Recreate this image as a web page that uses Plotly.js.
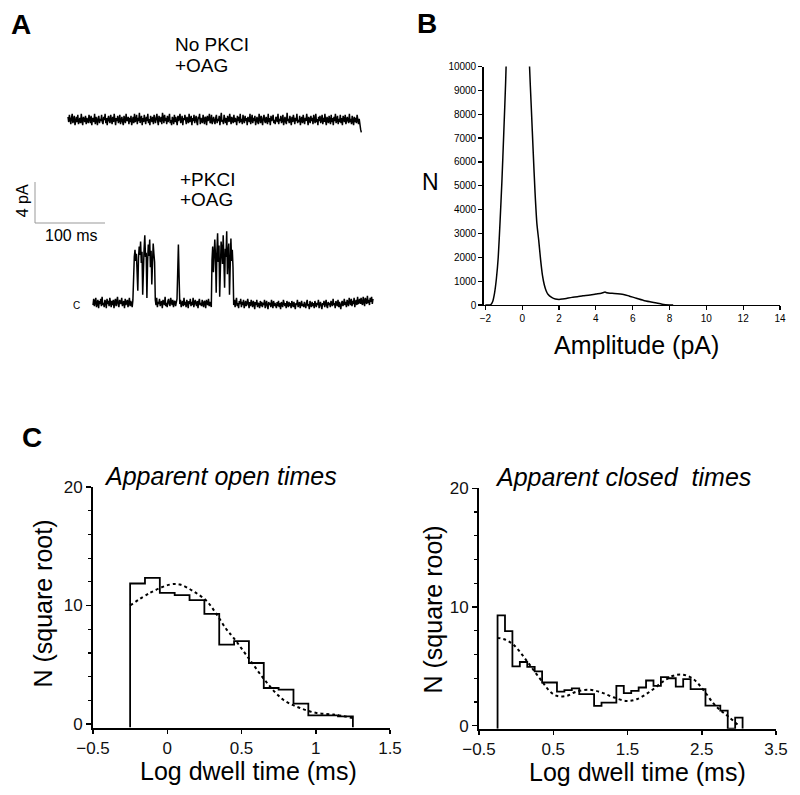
<!DOCTYPE html>
<html><head><meta charset="utf-8">
<script src="https://cdn.plot.ly/plotly-3.0.1.min.js"></script>
<style>html,body{margin:0;padding:0;background:#fff}#chart{width:800px;height:795px}</style>
</head><body><div id="chart"></div>
<script>
// ---------------- DATA ----------------
// Panel A: single-channel current traces, samples every 1 ms, values in 0.1 pA
const sampleMs = 1;
const traceTopDeciPA = [
 3,-2,5,-1,-4,2,6,-3,0,4,-5,1,3,-2,5,-4,0,2,-3,6,-1,-5,3,1,-2,4,-4,2,0,-3,
 5,-1,-3,4,-5,2,1,-2,6,-4,3,0,-5,2,4,-3,1,-1,5,-2,-4,3,0,6,-3,2,-5,1,4,-1,
 -3,5,0,-4,3,-2,6,1,-5,2,-1,4,-3,0,5,-4,2,3,-2,-5,4,1,-3,6,-1,0,3,-4,2,-2,
 4,-5,1,3,-3,6,-2,0,5,-4,2,-1,7,-3,1,4,-5,2,-2,5,0,-4,3,-1,6,-3,1,-5,4,2,
 -2,3,-4,5,0,-3,2,6,-1,-5,4,1,-2,3,-4,7,0,-3,5,-1,2,-4,4,-2,1,6,-3,0,-5,3,
 1,-4,5,-2,3,0,-5,4,-1,2,6,-3,-1,4,-5,2,0,5,-2,-4,3,1,-3,6,-2,0,4,-5,2,-1,
 5,-3,0,4,-2,-5,3,1,6,-4,2,-1,-3,5,0,-4,3,2,-5,4,-1,1,6,-3,-2,5,-4,0,3,-1,
 -4,2,5,-3,1,-1,4,-5,3,7,-2,0,-4,5,1,-3,2,-5,4,0,-2,6,-1,-4,3,1,-3,5,-2,2,
 0,-5,4,-1,3,-3,6,-2,1,-4,5,0,-3,4,-1,2,-5,3,1,-2,6,-4,0,5,-3,2,-1,4,-5,1,
 3,-2,-4,6,0,-3,4,1,-5,2,5,-1,-3,3,0,-4,6,-2,2,-5,4,-1,1,5,-3,0,-4,3,2,-2,
 6,-4,1,-1,4,-3,0,5,-5,2,3,-2,-4,7,-1,1,-3,4,0,-5,3,-2,5,1,-4,2,-1,6,-3,0,
 -2,4,-5,1,3,-3,5,0,-4,2,-1,6,-2,-5,3,1,-3,4,-1,2,-4,5,0,-3,6,-2,1,-5,3,-1,
 4,-3,0,5,-4,2,-2,6,-1,-5,3,1,-3,4,0,-4,5,-2,2,-5,3,-1,6,-3,0,4,-4,1,-2,5,
 -3,2,-5,4,1,-2,5,-4,0,3,-1,-3,6,-2,1,-4,4,0,-5,3,-2,2,-3,5,-1,-4,1,-6,-9,-12
];
const traceBottomDeciPA = [
 -2,4,-3,1,5,-4,0,3,-5,2,-1,4,-3,6,-2,0,-4,3,1,-5,4,-1,2,-3,5,0,-4,2,-2,3,
 -5,1,4,-3,0,6,-2,-4,3,1,-1,5,-3,0,2,-5,4,-2,1,3,-4,0,5,-3,2,-1,-4,3,
 38,45,52,41,48,30,12,44,55,47,60,39,50,8,42,53,66,45,49,5,40,57,46,62,35,51,18,44,58,48,40,
 3,-2,5,-4,1,-1,4,-3,0,2,-5,3,1,-2,6,-3,0,-4,2,4,-1,-3,5,0,-2,3,-4,1,2,-3,0,4,
 30,57,25,
 -1,3,-4,0,2,-3,5,-2,1,-4,3,0,-5,2,-1,4,-3,1,-2,5,-4,0,3,-1,-3,2,-5,1,4,-2,
 0,-3,3,-1,-4,2,1,-5,3,0,-2,4,-3,1,-1,-4,
 42,55,30,48,62,45,10,50,68,40,56,6,44,60,52,38,66,47,15,53,45,70,28,49,58,8,46,63,41,52,35,
 -2,3,-4,1,5,-3,0,-5,2,-1,4,-4,1,-2,3,-5,0,2,-3,-1,
 4,-2,-5,1,-3,3,-1,-4,2,0,-6,1,-2,3,-4,0,-1,-5,2,-3,
 1,-4,0,-2,3,-5,-1,2,-3,-6,1,-2,0,-4,3,-1,-5,2,-3,0,
 -2,-5,1,-3,2,-4,0,-6,1,-2,-4,3,-1,-3,0,-5,2,-2,-4,1,
 -3,0,-5,2,-1,-4,1,-3,-6,0,-2,3,-4,-1,1,-5,-2,2,-3,-1,
 -4,1,-2,-5,0,3,-3,-1,-6,2,-2,-4,1,-3,0,-5,2,-1,-4,0,
 -2,3,-5,-1,1,-3,-6,0,-2,2,-4,-1,3,-3,-5,1,-2,0,-4,2,
 -1,-3,4,-2,0,-5,2,-1,-3,3,-4,1,-2,-6,0,2,-3,-1,4,-2,
 1,-4,3,-1,-3,5,0,-2,4,-3,2,-1,5,-4,1,3,-2,6,-1,2,
 4,-1,5,0,-2,6,1,-3,5,2,-1,7,0,3,-2,5,1,6,-1,4
];
const scaleBarMs = 100, scaleBarPA = 4;

// Panel B: all-points amplitude histogram
const ampX = [-2.0,-1.8,-1.7,-1.6,-1.5,-1.4,-1.3,-1.2,-1.1,-1.0,-0.9,-0.8,-0.6,-0.3,0.0,0.2,0.4,0.5,0.6,0.7,0.8,0.9,1.0,1.1,1.2,1.3,1.4,1.6,1.8,2.0,2.2,2.4,2.7,3.0,3.3,3.6,4.0,4.3,4.5,4.6,4.8,5.0,5.5,5.8,6.2,6.6,7.0,7.3,7.6,8.0,8.2];
const ampN = [0,0,20,150,500,1100,2000,3500,5200,7200,9300,12000,20000,30000,25000,16000,10000,8200,6400,4700,3400,2700,1900,1250,850,600,450,320,250,230,250,275,320,345,390,410,460,495,540,510,495,485,445,380,280,190,125,80,35,5,0];

// Panel C: dwell-time histograms (sqrt N), bin centres in log ms
const openBins = [-0.2,-0.1,0.0,0.1,0.2,0.3,0.4,0.5,0.6,0.7,0.8,0.9,1.0,1.1,1.2];
const openSqrtN = [11.86,12.34,11.07,10.87,10.45,9.3,6.7,7.0,5.15,3.04,2.9,1.72,0.73,0.73,0.65];
const openFitX = [-0.25,-0.116,0.019,0.086,0.176,0.266,0.333,0.4,0.445,0.557,0.67,0.781,0.894,1.006,1.118,1.253];
const openFitY = [10.0,11.07,11.77,11.77,11.2,10.37,9.24,7.97,7.3,5.4,3.5,2.05,1.35,0.93,0.8,0.5];

const closedBins = [-0.2,-0.1,0.0,0.1,0.2,0.3,0.4,0.5,0.6,0.7,0.8,0.9,1.0,1.1,1.2,1.3,1.4,1.5,1.6,1.7,1.8,1.9,2.0,2.1,2.2,2.3,2.4,2.5,2.6,2.7,2.8,2.9,3.0];
const closedSqrtN = [9.3,7.97,5.0,5.37,4.95,4.58,3.64,3.64,2.88,3.0,3.15,2.67,2.67,1.68,1.94,1.94,3.36,2.74,2.94,3.22,3.81,3.36,4.1,4.0,3.3,3.93,3.08,3.08,1.7,1.7,1.27,0,0.68];
const closedFitX = [-0.254,-0.15,-0.038,0.097,0.231,0.366,0.456,0.546,0.681,0.816,0.995,1.15,1.309,1.489,1.624,1.803,1.982,2.117,2.251,2.386,2.52,2.655,2.746,2.86,2.99];
const closedFitY = [7.4,7.26,6.84,5.85,4.72,3.59,2.88,2.52,2.52,2.88,3.03,2.8,2.4,2.09,2.23,2.88,3.73,4.21,4.3,3.93,3.03,1.9,1.33,0.76,0.05];
const binWidth = 0.1;

// ---------------- LAYOUT HELPERS ----------------
const W = 800, H = 795;
const px = x => x / W, py = y => 1 - y / H;
const FONT = 'Liberation Sans, Arial, sans-serif';

// Panel A axes: ms horizontally, pA vertically
const aMsPerPx = 100 / 70, aPxPerPA = 10.25;
const aX0 = 20, aX1 = 390, aYtop = 40, aYbot = 320, aBase = 303;
const topOffsetPA = (aBase - 120) / aPxPerPA;
const topStartMs = (68 - aX0) * aMsPerPx, botStartMs = (93 - aX0) * aMsPerPx;

const traceTop = {
  x: traceTopDeciPA.map((v, i) => topStartMs + i * sampleMs),
  y: traceTopDeciPA.map(v => topOffsetPA + v / 10),
  mode: 'lines', line: {color: '#000', width: 1.5}, xaxis: 'x', yaxis: 'y', hoverinfo: 'skip'
};
const traceBot = {
  x: traceBottomDeciPA.map((v, i) => botStartMs + i * sampleMs),
  y: traceBottomDeciPA.map(v => v / 10),
  mode: 'lines', line: {color: '#000', width: 1.5}, xaxis: 'x', yaxis: 'y', hoverinfo: 'skip'
};

const ampTrace = {x: ampX, y: ampN, mode: 'lines', line: {color: '#000', width: 1.5, shape: 'spline', smoothing: 0.6}, xaxis: 'x2', yaxis: 'y2'};

function stepTrace(centers, vals, floor, xa, ya) {
  const xs = [centers[0] - binWidth / 2], ys = [floor];
  centers.forEach((c, i) => { xs.push(c - binWidth / 2); ys.push(vals[i]); });
  const last = centers[centers.length - 1] + binWidth / 2;
  xs.push(last); ys.push(vals[vals.length - 1]);
  xs.push(last); ys.push(floor);
  return {x: xs, y: ys, mode: 'lines', line: {color: '#000', width: 1.8, shape: 'hv'}, xaxis: xa, yaxis: ya};
}
const openFloor = -0.3, closedFloor = -0.25;
const openHist = stepTrace(openBins, openSqrtN, openFloor, 'x3', 'y3');
const closedHist = stepTrace(closedBins, closedSqrtN.map(v => v === 0 ? closedFloor : v), closedFloor, 'x4', 'y4');
const openFit = {x: openFitX, y: openFitY, mode: 'lines', line: {color: '#000', width: 2, dash: 'dot', shape: 'spline'}, xaxis: 'x3', yaxis: 'y3'};
const closedFit = {x: closedFitX, y: closedFitY, mode: 'lines', line: {color: '#000', width: 2, dash: 'dot', shape: 'spline'}, xaxis: 'x4', yaxis: 'y4'};

const tickFontB = {family: FONT, size: 10, color: '#000'};
const tickFontC = {family: FONT, size: 17, color: '#111'};
const baseAx = {showgrid: false, zeroline: false, showline: true, linecolor: '#000', ticks: 'outside', tickcolor: '#000', fixedrange: true};

const scaleX0 = (35 - aX0) * aMsPerPx, scaleY0 = (aBase - 223) / aPxPerPA;

function ann(text, x, y, size, extra) {
  return Object.assign({text: text, x: px(x), y: py(y), xref: 'paper', yref: 'paper', showarrow: false,
    xanchor: 'center', yanchor: 'middle', font: {family: FONT, size: size, color: '#000'}}, extra || {});
}

const layout = {
  width: W, height: H, margin: {l: 0, r: 0, t: 0, b: 0}, paper_bgcolor: '#fff', plot_bgcolor: 'rgba(0,0,0,0)',
  showlegend: false, font: {family: FONT},
  xaxis: {domain: [px(aX0), px(aX1)], range: [0, (aX1 - aX0) * aMsPerPx], visible: false, fixedrange: true},
  yaxis: {domain: [py(aYbot), py(aYtop)], range: [(aBase - aYbot) / aPxPerPA, (aBase - aYtop) / aPxPerPA], visible: false, fixedrange: true},
  xaxis2: Object.assign({}, baseAx, {domain: [px(483.5), px(780)], range: [-2.1, 14], tick0: -2, dtick: 2, ticklen: 4, linewidth: 1.3, tickwidth: 1.2, tickfont: tickFontB, anchor: 'y2'}),
  yaxis2: Object.assign({}, baseAx, {domain: [py(305), py(66.5)], range: [0, 10000], dtick: 1000, tickformat: 'd', ticklen: 4, linewidth: 1.3, tickwidth: 1.2, tickfont: tickFontB, anchor: 'x2'}),
  xaxis3: Object.assign({}, baseAx, {domain: [px(93), px(390)], range: [-0.5, 1.5], tick0: -0.5, dtick: 0.5, ticklen: 4, linewidth: 2, tickwidth: 1.5, tickfont: tickFontC, anchor: 'y3'}),
  yaxis3: Object.assign({}, baseAx, {domain: [py(727.6), py(487)], range: [-0.3, 20], tick0: 0, dtick: 10, ticklen: 5, linewidth: 2, tickwidth: 1.5, tickfont: tickFontC, anchor: 'x3',
    minor: {dtick: 2, ticks: 'outside', ticklen: 3, tickwidth: 1.2, tickcolor: '#000'}}),
  xaxis4: Object.assign({}, baseAx, {domain: [px(479), px(776)], range: [-0.5, 3.5], tick0: -0.5, dtick: 1, ticklen: 4, linewidth: 2, tickwidth: 1.5, tickfont: tickFontC, anchor: 'y4'}),
  yaxis4: Object.assign({}, baseAx, {domain: [py(728.7), py(488.3)], range: [-0.25, 20], tick0: 0, dtick: 10, ticklen: 5, linewidth: 2, tickwidth: 1.5, tickfont: tickFontC, anchor: 'x4',
    minor: {dtick: 2, ticks: 'outside', ticklen: 3, tickwidth: 1.2, tickcolor: '#000'}}),
  shapes: [
    {type: 'line', xref: 'x', yref: 'y', x0: scaleX0, x1: scaleX0, y0: scaleY0, y1: scaleY0 + scaleBarPA, line: {color: '#999', width: 1}},
    {type: 'line', xref: 'x', yref: 'y', x0: scaleX0, x1: scaleX0 + scaleBarMs, y0: scaleY0, y1: scaleY0, line: {color: '#999', width: 1}}
  ],
  annotations: [
    ann('<b>A</b>', 21, 25, 28),
    ann('<b>B</b>', 427, 24, 28),
    ann('<b>C</b>', 32, 437, 28),
    ann('No PKCI', 173, 45, 19, {xanchor: 'left'}),
    ann('+OAG', 173, 66, 19, {xanchor: 'left'}),
    ann('+PKCI', 177.7, 179.5, 19, {xanchor: 'left'}),
    ann('+OAG', 177.7, 199.5, 19, {xanchor: 'left'}),
    ann('4 pA', 22.5, 200.8, 16, {textangle: -90}),
    ann('100 ms', 70.8, 236, 16),
    ann('C', 76.3, 305, 10),
    ann('N', 430, 182, 23),
    ann('Amplitude (pA)', 636, 345, 25),
    ann('<i>Apparent open times</i>', 220.8, 476, 25),
    ann('<i>Apparent closed\u00a0 times</i>', 622.5, 477, 25),
    ann('N (square root)', 43.3, 603.3, 25, {textangle: -90}),
    ann('N (square root)', 433.3, 609.2, 25, {textangle: -90}),
    ann('Log dwell time (ms)', 248.3, 771, 25),
    ann('Log dwell time (ms)', 637.5, 772, 25)
  ]
};

Plotly.newPlot('chart', [traceTop, traceBot, ampTrace, openHist, openFit, closedHist, closedFit], layout, {staticPlot: true, displayModeBar: false});
</script>
</body></html>
